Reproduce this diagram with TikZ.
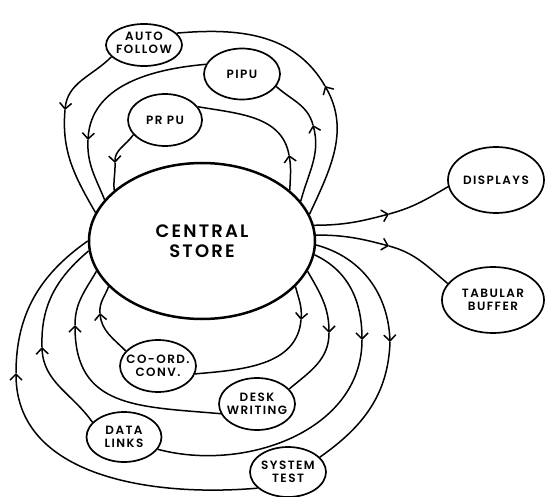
\documentclass[tikz,border=0pt]{standalone}
\usepackage{fontspec}
\newfontfamily\lblfont{Poppins}[UprightFont={* SemiBold}, LetterSpace=12]
\usetikzlibrary{shapes.geometric, arrows.meta}

\begin{document}
\begin{tikzpicture}[x=1pt, y=1pt,
  blob/.style={draw, ellipse, line width=1.7pt, inner sep=0pt},
  hub/.style={draw, ellipse, line width=2.5pt, inner sep=0pt},
  lbl/.style={align=center, inner sep=0pt, font=\lblfont\fontsize{12}{13.5}\selectfont},
  biglbl/.style={align=center, inner sep=0pt, font=\lblfont\fontsize{18}{20}\selectfont},
  flow/.style={line width=1.5pt},
  tip/.style={flow, -{Straight Barb[length=6pt, width=12pt]}}
]
\useasboundingbox (0,0) rectangle (546,-497);

% processing units and stores
\node[hub,  minimum width=226pt, minimum height=156pt] (cs)    at (202,-241) {};
\node[blob, minimum width=76pt,  minimum height=42pt]  (af)    at (144,-45)  {};
\node[blob, minimum width=76pt,  minimum height=51pt]  (pipu)  at (242,-74)  {};
\node[blob, minimum width=74pt,  minimum height=52pt]  (prpu)  at (165,-120) {};
\node[blob, minimum width=96pt,  minimum height=66pt]  (disp)  at (496,-180) {};
\node[blob, minimum width=102pt, minimum height=66pt]  (tab)   at (493,-300) {};
\node[blob, minimum width=76pt,  minimum height=52pt]  (coord) at (158,-366) {};
\node[blob, minimum width=76pt,  minimum height=52pt]  (desk)  at (257,-404) {};
\node[blob, minimum width=75pt,  minimum height=50pt]  (data)  at (124,-437) {};
\node[blob, minimum width=76pt,  minimum height=50pt]  (sys)   at (288,-472) {};

% labels
\node[biglbl] (cs-t)    at (cs)    {CENTRAL\\STORE};
\node[lbl]    (af-t)    at (144,-43) {AUTO\\FOLLOW};
\node[lbl]    (pipu-t)  at (pipu)  {PIPU};
\node[lbl]    (prpu-t)  at (prpu)  {PR PU};
\node[lbl]    (disp-t)  at (disp)  {DISPLAYS};
\node[lbl]    (tab-t)   at (tab)   {TABULAR\\BUFFER};
\node[lbl]    (coord-t) at (coord) {CO-ORD.\\CONV.};
\node[lbl]    (desk-t)  at (desk)  {DESK\\WRITING};
\node[lbl]    (data-t)  at (data)  {DATA\\LINKS};
\node[lbl]    (sys-t)   at (sys)   {SYSTEM\\TEST};

% arrowhead positions along the loops
\coordinate (aA)  at (325,-86);
\coordinate (aAL) at (65,-110);
\coordinate (aB)  at (313,-125);
\coordinate (aBL) at (88,-140);
\coordinate (aC)  at (289,-155);
\coordinate (aCL) at (115,-163);
\coordinate (aD)  at (301,-320);
\coordinate (aDL) at (100,-313);
\coordinate (aE)  at (329,-333);
\coordinate (aEL) at (75,-325);
\coordinate (aF)  at (362,-340);
\coordinate (aFL) at (42,-347);
\coordinate (aG)  at (390,-342);
\coordinate (aGL) at (16,-373);
\coordinate (aH)  at (389,-214);
\coordinate (aT)  at (389,-246);

% upper loops: store -> unit -> store
\draw[tip]  (cs.14) to[out=65, in=-60] (aA);
\draw[flow] (aA) to[out=120, in=5] (af.20);
\draw[tip]  (af.200) to[out=225, in=85] (aAL);
\draw[flow] (aAL) to[out=265, in=120] (cs.165);

\draw[tip]  (cs.22) to[out=75, in=-75] (aB);
\draw[flow] (aB) to[out=105, in=-42] (pipu.-20);
\draw[tip]  (pipu.165) to[out=185, in=87] (aBL);
\draw[flow] (aBL) to[out=267, in=112] (cs.157);

\draw[tip]  (cs.30) to[out=88, in=-80] (aC);
\draw[flow] (aC) to[out=100, in=-10] (prpu.22);
\draw[tip]  (prpu.205) to[out=235, in=92] (aCL);
\draw[flow] (aCL) to[out=272, in=95] (cs.150);

% lower loops: store -> unit -> store
\draw[tip]  (cs.334) to[out=-75, in=85] (aD);
\draw[flow] (aD) to[out=265, in=5] (coord.-12);
\draw[tip]  (coord.155) to[out=135, in=-85] (aDL);
\draw[flow] (aDL) to[out=95, in=-110] (cs.206);

\draw[tip]  (cs.344) to[out=-60, in=90] (aE);
\draw[flow] (aE) to[out=270, in=40] (desk.25);
\draw[tip]  (desk.195) to[out=175, in=-90, looseness=1.25] (aEL);
\draw[flow] (aEL) to[out=90, in=-120] (cs.196);

\draw[tip]  (cs.353) to[out=-25, in=90] (aF);
\draw[flow] (aF) to[out=270, in=-15] (data.-20);
\draw[tip]  (data.155) to[out=125, in=-88] (aFL);
\draw[flow] (aFL) to[out=92, in=-140] (cs.185);

\draw[tip]  (cs.358) to[out=-15, in=92] (aG);
\draw[flow] (aG) to[out=268, in=35] (sys.25);
\draw[tip]  (sys.208) to[out=185, in=-90] (aGL);
\draw[flow] (aGL) to[out=90, in=-145] (cs.180);

% outputs
\draw[tip]  (cs.8) to[out=0, in=195] (aH);
\draw[flow] (aH) to[out=15, in=210] (disp.188);
\draw[tip]  (cs.3) to[out=0, in=165] (aT);
\draw[flow] (aT) to[out=-15, in=140] (tab.160);
\end{tikzpicture}
\end{document}
